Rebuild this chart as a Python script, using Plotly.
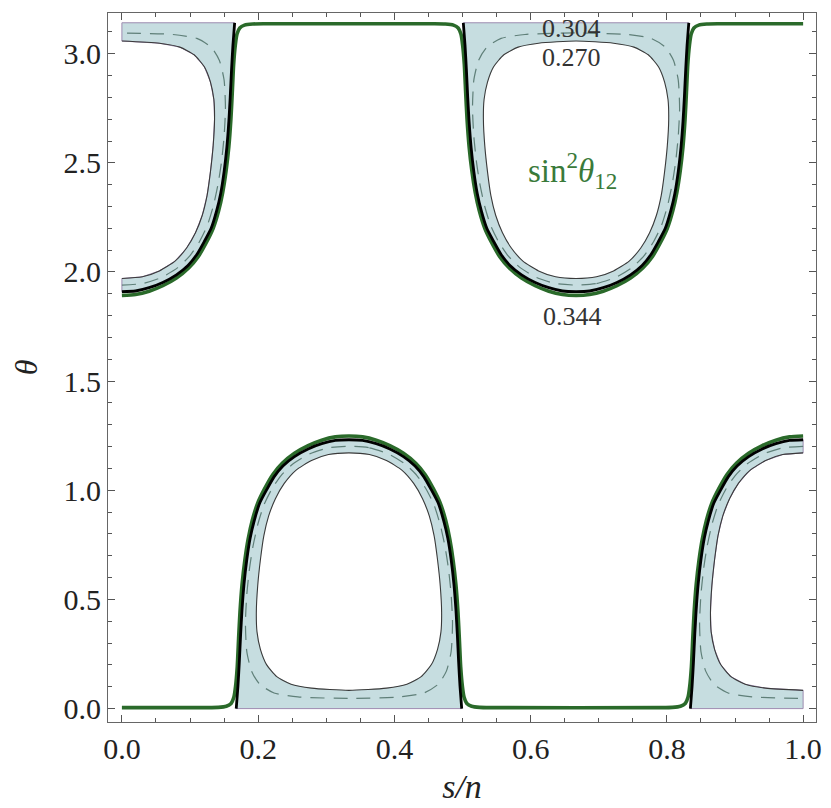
import math
import plotly.graph_objects as go

PI = math.pi

# ---- half-profiles of the upper "dip" (offset d = |s/n - centre|, theta) ----
# thick black: sin^2(theta12) = 0.344 contour
black_d = [0.000, 0.020, 0.040, 0.060, 0.080, 0.097, 0.110, 0.121, 0.131, 0.139, 0.145,
           0.150, 0.154, 0.157, 0.159, 0.161, 0.163, 0.1655]
black_theta = [1.910, 1.913, 1.928, 1.952, 1.987, 2.030, 2.080, 2.140, 2.200, 2.280, 2.360,
               2.460, 2.570, 2.690, 2.800, 2.930, 3.040, PI]
# dashed: 0.304 contour (closed loop, bottom -> top on one side)
dashed_d = [0.000, 0.030, 0.058, 0.082, 0.100, 0.114, 0.125, 0.134, 0.141, 0.146, 0.150,
            0.152, 0.150, 0.143, 0.131, 0.110, 0.075, 0.000]
dashed_theta = [1.940, 1.947, 1.975, 2.020, 2.075, 2.140, 2.210, 2.300, 2.400, 2.500, 2.620,
                2.750, 2.880, 2.970, 3.030, 3.070, 3.088, 3.095]
# thin: 0.270 contour (closed loop, bottom -> top on one side)
thin_d = [0.000, 0.030, 0.055, 0.078, 0.095, 0.108, 0.118, 0.125, 0.130, 0.134, 0.136,
          0.135, 0.130, 0.121, 0.106, 0.085, 0.055, 0.000]
thin_theta = [1.970, 1.978, 2.005, 2.050, 2.110, 2.180, 2.260, 2.350, 2.460, 2.580, 2.700,
              2.790, 2.870, 2.940, 2.995, 3.030, 3.048, 3.058]
# green curve
green_d = [0.000, 0.020, 0.040, 0.060, 0.080, 0.098, 0.112, 0.124, 0.134, 0.142, 0.148,
           0.153, 0.157, 0.160, 0.162, 0.164, 0.1665, 0.169, 0.173, 0.180, 0.192, 0.210]
green_theta = [1.893, 1.897, 1.912, 1.937, 1.972, 2.018, 2.070, 2.135, 2.200, 2.280, 2.365,
               2.465, 2.575, 2.700, 2.820, 2.950, 3.040, 3.090, 3.118, 3.131, 3.136, 3.137]

upper_centres = [0.0, 2 / 3]   # dips hanging from theta = pi
lower_centres = [1 / 3, 1.0]   # arches standing on theta = 0

x_ticks = [0.0, 0.2, 0.4, 0.6, 0.8, 1.0]
y_ticks = [0.0, 0.5, 1.0, 1.5, 2.0, 2.5, 3.0]

labels = [("0.304", 0.660, 3.116), ("0.270", 0.660, 2.981), ("0.344", 0.662, 1.797)]

FILL = "#c6dde0"
EDGE = "#9d8bb0"
GREEN = "#2a6a2a"
SERIF = "Liberation Serif, Times New Roman, serif"


def flip(vals):
    return [PI - v for v in vals]


def full_open(c, d, t):
    """symmetric open curve: left half (top->bottom) then right half (bottom->top)"""
    xs = [c - v for v in reversed(d)] + [c + v for v in d[1:]]
    ys = list(reversed(t)) + list(t[1:])
    return xs, ys


def full_loop(c, d, t):
    xs = [c + v for v in d] + [c - v for v in reversed(d[:-1])]
    ys = list(t) + list(reversed(t[:-1]))
    return xs, ys


fig = go.Figure()


def add_fill(xs, ys, color, edge=None):
    fig.add_trace(go.Scatter(x=xs, y=ys, mode="lines", fill="toself", fillcolor=color,
                             line=dict(color=edge if edge else color, width=1 if edge else 0),
                             hoverinfo="skip", showlegend=False))


def add_line(xs, ys, color, width, dash=None):
    fig.add_trace(go.Scatter(x=xs, y=ys, mode="lines",
                             line=dict(color=color, width=width, dash=dash, shape="spline", smoothing=0.6),
                             hoverinfo="skip", showlegend=False))


# ---------------- shaded regions ----------------
# upper-left partial region (right half of dip centred at 0)
c = upper_centres[0]
xs = [0.0] + [c + black_d[-1]] + [c + v for v in reversed(black_d)] + [c + v for v in thin_d] + [0.0]
ys = [PI] + [PI] + list(reversed(black_theta)) + list(thin_theta) + [PI]
add_fill(xs, ys, FILL, EDGE)

# full dip centred at 2/3
c = upper_centres[1]
bx, by = full_open(c, black_d, black_theta)
add_fill(bx + [bx[0]], by + [by[0]], FILL, EDGE)
lx, ly = full_loop(c, thin_d, thin_theta)
add_fill(lx, ly, "white")

# full arch centred at 1/3
c = lower_centres[0]
bx, by = full_open(c, black_d, flip(black_theta))
add_fill(bx + [bx[0]], by + [by[0]], FILL, EDGE)
lx, ly = full_loop(c, thin_d, flip(thin_theta))
add_fill(lx, ly, "white")

# lower-right partial region (left half of arch centred at 1)
c = lower_centres[1]
xs = [1.0] + [c - black_d[-1]] + [c - v for v in reversed(black_d)] + [c - v for v in thin_d] + [1.0]
ys = [0.0] + [0.0] + flip(list(reversed(black_theta))) + flip(thin_theta) + [0.0]
add_fill(xs, ys, FILL, EDGE)

# ---------------- contour lines ----------------
# thin 0.270
add_line([0 + v for v in thin_d], thin_theta, "#3a3a3a", 1.1)
lx, ly = full_loop(upper_centres[1], thin_d, thin_theta)
add_line(lx, ly, "#3a3a3a", 1.1)
lx, ly = full_loop(lower_centres[0], thin_d, flip(thin_theta))
add_line(lx, ly, "#3a3a3a", 1.1)
add_line([1 - v for v in thin_d], flip(thin_theta), "#3a3a3a", 1.1)

# dashed 0.304
DASH = "14px,9px"
add_line([0 + v for v in dashed_d], dashed_theta, "#5f7f78", 1.2, DASH)
lx, ly = full_loop(upper_centres[1], dashed_d, dashed_theta)
add_line(lx, ly, "#5f7f78", 1.2, DASH)
lx, ly = full_loop(lower_centres[0], dashed_d, flip(dashed_theta))
add_line(lx, ly, "#5f7f78", 1.2, DASH)
add_line([1 - v for v in dashed_d], flip(dashed_theta), "#5f7f78", 1.2, DASH)

# green curves
gx = [0 + v for v in green_d] + [upper_centres[1] - v for v in reversed(green_d)] \
     + [upper_centres[1] + v for v in green_d[1:]] + [1.0]
gy = list(green_theta) + list(reversed(green_theta)) + list(green_theta[1:]) + [green_theta[-1]]
add_line(gx, gy, GREEN, 3.6)
gx = [0.0] + [lower_centres[0] - v for v in reversed(green_d)] + [lower_centres[0] + v for v in green_d[1:]] \
     + [lower_centres[1] - v for v in reversed(green_d)]
gy = [PI - green_theta[-1]] + flip(list(reversed(green_theta))) + flip(green_theta[1:]) \
     + flip(list(reversed(green_theta)))
add_line(gx, gy, GREEN, 3.6)

# thick black 0.344
add_line([0 + v for v in black_d], black_theta, "black", 2.8)
bx, by = full_open(upper_centres[1], black_d, black_theta)
add_line(bx, by, "black", 2.8)
bx, by = full_open(lower_centres[0], black_d, flip(black_theta))
add_line(bx, by, "black", 2.8)
add_line([1 - v for v in black_d], flip(black_theta), "black", 2.8)

# ---------------- labels ----------------
for txt, x, y in labels:
    fig.add_annotation(x=x, y=y, text=txt, showarrow=False,
                       font=dict(family=SERIF, size=26, color="#333333"))
fig.add_annotation(x=0.662, y=2.466, text="sin<sup>2</sup><i>θ</i><sub>12</sub>", showarrow=False,
                   font=dict(family=SERIF, size=33, color="#3a7a3a"))

axis_common = dict(showgrid=False, zeroline=False, showline=True, mirror="ticks",
                   linecolor="#666666", linewidth=1, ticks="inside", ticklen=7,
                   tickcolor="#555555", tickwidth=1, tickformat=".1f",
                   tickfont=dict(family=SERIF, size=30, color="#222222"),
                   minor=dict(ticks="inside", ticklen=4, tickcolor="#555555", tickwidth=1))

fig.update_layout(
    width=831, height=808,
    margin=dict(l=108, r=9, t=13, b=86),
    paper_bgcolor="white", plot_bgcolor="white",
    xaxis=dict(range=[-0.0204, 1.0189], tickvals=x_ticks, **axis_common,
               title=dict(text="<i>s/n</i>", font=dict(family=SERIF, size=34, color="#222222"),
                          standoff=10)),
    yaxis=dict(range=[-0.0614, 3.1864], tickvals=y_ticks, **axis_common,
               title=dict(text="<i>θ</i>", font=dict(family=SERIF, size=32, color="#222222"),
                          standoff=16)),
)
fig.update_xaxes(minor_dtick=0.05, minor_tick0=0)
fig.update_yaxes(minor_dtick=0.1, minor_tick0=0)

fig.write_html("out.html")
